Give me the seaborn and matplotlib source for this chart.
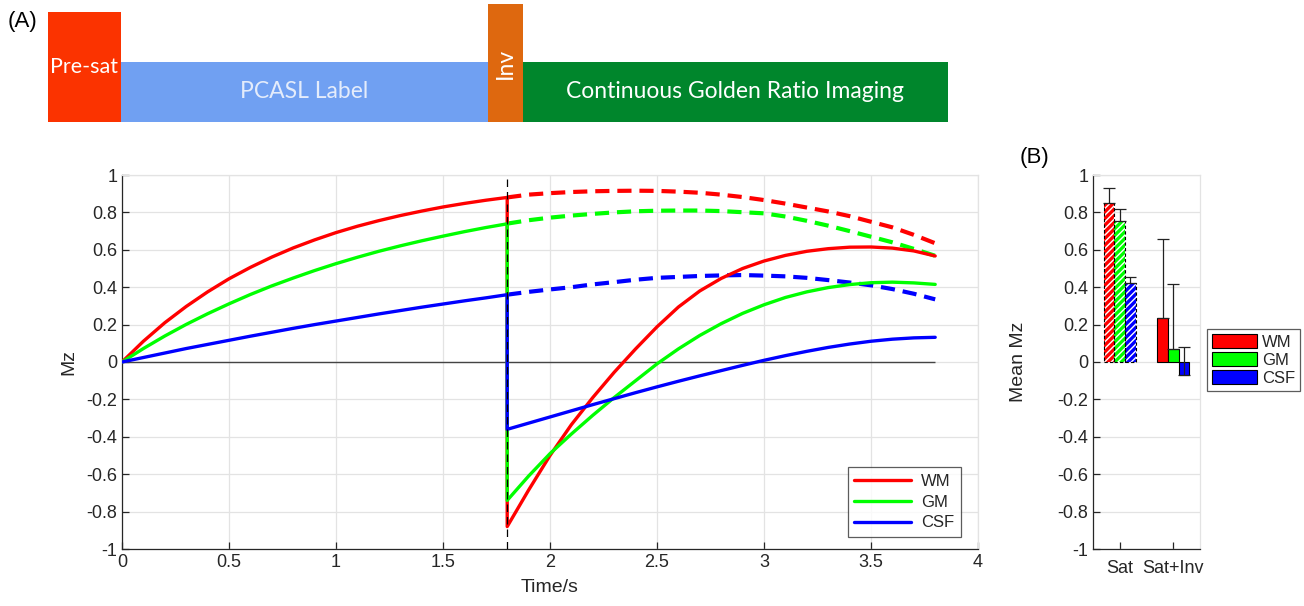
import numpy as np
import pandas as pd
import matplotlib
matplotlib.use('Agg')
import matplotlib.pyplot as plt
from matplotlib.lines import Line2D
from matplotlib.patches import Patch, Rectangle
import seaborn as sns

# --- curves ---
t_pre = [0.0, 0.1, 0.2, 0.3, 0.4, 0.5, 0.6, 0.7, 0.8, 0.9,
         1.0, 1.1, 1.2, 1.3, 1.4, 1.5, 1.6, 1.7, 1.8]
wm_pre = [0.0, 0.111, 0.21, 0.297, 0.375, 0.445, 0.506, 0.561, 0.61, 0.653,
          0.692, 0.726, 0.756, 0.783, 0.807, 0.829, 0.848, 0.865, 0.88]
gm_pre = [0.0, 0.072, 0.139, 0.201, 0.258, 0.311, 0.361, 0.407, 0.449, 0.489,
          0.526, 0.56, 0.592, 0.621, 0.648, 0.673, 0.697, 0.719, 0.739]
csf_pre = [0.0, 0.024, 0.048, 0.072, 0.094, 0.116, 0.138, 0.159, 0.18, 0.2,
           0.219, 0.238, 0.257, 0.275, 0.293, 0.31, 0.327, 0.343, 0.36]

t_post = [1.8, 1.9, 2.0, 2.1, 2.2, 2.3, 2.4, 2.5, 2.6, 2.7, 2.8,
          2.9, 3.0, 3.1, 3.2, 3.3, 3.4, 3.5, 3.6, 3.7, 3.8]
# with inversion (solid)
wm_inv = [-0.88, -0.685, -0.5, -0.335, -0.19, -0.055, 0.07, 0.188, 0.294, 0.38, 0.447,
          0.5, 0.54, 0.57, 0.592, 0.606, 0.614, 0.615, 0.609, 0.594, 0.567]
gm_inv = [-0.74, -0.61, -0.49, -0.385, -0.285, -0.19, -0.1, -0.01, 0.07, 0.142, 0.205,
          0.26, 0.306, 0.345, 0.375, 0.398, 0.414, 0.424, 0.427, 0.423, 0.415]
csf_inv = [-0.36, -0.327, -0.294, -0.261, -0.228, -0.196, -0.164, -0.133, -0.103, -0.074, -0.046,
           -0.018, 0.009, 0.034, 0.057, 0.078, 0.096, 0.111, 0.122, 0.129, 0.132]
# without inversion (dashed)
wm_sat = [0.88, 0.895, 0.903, 0.909, 0.913, 0.915, 0.916, 0.915, 0.911, 0.905, 0.895,
          0.882, 0.866, 0.847, 0.826, 0.805, 0.78, 0.75, 0.72, 0.68, 0.635]
gm_sat = [0.74, 0.758, 0.772, 0.783, 0.792, 0.8, 0.806, 0.809, 0.81, 0.81, 0.807,
          0.801, 0.795, 0.778, 0.755, 0.729, 0.7, 0.67, 0.64, 0.605, 0.568]
csf_sat = [0.36, 0.375, 0.388, 0.4, 0.415, 0.427, 0.44, 0.45, 0.455, 0.46, 0.463,
           0.465, 0.462, 0.458, 0.45, 0.438, 0.425, 0.41, 0.39, 0.365, 0.335]

t_inv = 1.8
tissues = ['WM', 'GM', 'CSF']
tissue_colors = ['#ff0000', '#00ff00', '#0000ff']

# --- bar panel ---
conditions = ['Sat', 'Sat+Inv']
bar_wm = [0.85, 0.235]
bar_gm = [0.754, 0.067]
bar_csf = [0.42, -0.07]
err_wm = [0.08, 0.425]
err_gm = [0.065, 0.35]
err_csf = [0.032, 0.15]

# --- timing diagram ---
block_labels = ['Pre-sat', 'PCASL Label', 'Inv', 'Continuous Golden Ratio Imaging']
block_starts = [0, 73, 440, 475]
block_widths = [73, 367, 35, 425]
block_heights = [110, 60, 118, 60]
block_colors = ['#fb3300', '#70a0f2', '#de680f', '#00862c']
block_text_colors = ['white', '#e4ecfb', 'white', 'white']
block_text_sizes = [15.5, 16.5, 16.5, 16.5]
block_rot = [0, 0, 90, 0]

yticks = [-1, -0.8, -0.6, -0.4, -0.2, 0, 0.2, 0.4, 0.6, 0.8, 1]
ytick_labels = ['-1', '-0.8', '-0.6', '-0.4', '-0.2', '0', '0.2', '0.4', '0.6', '0.8', '1']
xticks = [0, 0.5, 1, 1.5, 2, 2.5, 3, 3.5, 4]
xtick_labels = ['0', '0.5', '1', '1.5', '2', '2.5', '3', '3.5', '4']

sns.set_theme(style='white')
plt.rcParams['font.family'] = ['Liberation Sans', 'DejaVu Sans']
txt = '#262626'

fig = plt.figure(figsize=(13.04, 6.06), dpi=100)


def style_axes(ax):
    ax.grid(True, color='#e3e3e3', lw=0.9)
    ax.set_axisbelow(True)
    for s in ['left', 'bottom']:
        ax.spines[s].set_color('#262626')
        ax.spines[s].set_linewidth(0.9)
    for s in ['top', 'right']:
        ax.spines[s].set_color('#e3e3e3')
        ax.spines[s].set_linewidth(0.9)
    ax.tick_params(direction='in', length=5, width=0.9, color='#262626',
                   labelsize=13, labelcolor=txt, left=True, bottom=True)
    ax.set_ylim(-1, 1)
    ax.set_yticks(yticks)
    ax.set_yticklabels(ytick_labels)


# main plot
ax = fig.add_axes([122 / 1304, 1 - 549 / 606, 856 / 1304, 374 / 606])
style_axes(ax)
ax.hlines(0, 0, 3.8, color='#444444', lw=1.0, zorder=1)

pre = [wm_pre, gm_pre, csf_pre]
inv = [wm_inv, gm_inv, csf_inv]
sat = [wm_sat, gm_sat, csf_sat]
for name, col, p, i, s in zip(tissues, tissue_colors, pre, inv, sat):
    solid = pd.DataFrame({'t': t_pre + t_post, 'mz': p + i})
    sns.lineplot(data=solid, x='t', y='mz', sort=False, estimator=None,
                 color=col, lw=2.4, ax=ax, zorder=3)
    dashed = pd.DataFrame({'t': t_post, 'mz': s})
    sns.lineplot(data=dashed, x='t', y='mz', sort=False, estimator=None,
                 color=col, lw=3.0, ax=ax, zorder=2)
    ax.lines[-1].set_dashes((3.4, 1.9))

ax.axvline(t_inv, color='black', lw=0.9, dashes=(6, 4), zorder=4)
ax.set_xlim(0, 4)
ax.set_xticks(xticks)
ax.set_xticklabels(xtick_labels)
ax.set_xlabel('Time/s', fontsize=14, color=txt, labelpad=6)
ax.set_ylabel('Mz', fontsize=14, color=txt, labelpad=6)

handles = [Line2D([], [], color=c, lw=2.4) for c in tissue_colors]
leg = ax.legend(handles, tissues, loc='lower right', bbox_to_anchor=(0.980, 0.032),
                borderaxespad=0, fontsize=12, frameon=True, fancybox=False,
                handlelength=3.4, borderpad=0.4, labelspacing=0.35, handletextpad=0.6)
leg.get_frame().set_edgecolor('#333333')
leg.get_frame().set_linewidth(0.9)

# bar plot
axb = fig.add_axes([1093 / 1304, 1 - 549 / 606, 107 / 1304, 374 / 606])
style_axes(axb)
bar_df = pd.DataFrame({
    'cond': conditions * 3,
    'tissue': [t for t in tissues for _ in conditions],
    'mz': bar_wm + bar_gm + bar_csf,
})
sns.barplot(data=bar_df, x='cond', y='mz', hue='tissue', hue_order=tissues,
            palette=tissue_colors, width=0.6, errorbar=None, saturation=1,
            legend=False, ax=axb)
errs = [err_wm, err_gm, err_csf]
vals = [bar_wm, bar_gm, bar_csf]
for cont, e, v in zip(axb.containers, errs, vals):
    xs = []
    for j, bar in enumerate(cont):
        xs.append(bar.get_x() + bar.get_width() / 2)
        if j == 0:
            bar.set_hatch('/////')
            bar.set_edgecolor('white')
            bar.set_linewidth(0)
            axb.add_patch(Rectangle(bar.get_xy(), bar.get_width(), bar.get_height(),
                                    fill=False, ec='black', lw=0.8, ls=(0, (3, 2)), zorder=3))
        else:
            bar.set_edgecolor('black')
            bar.set_linewidth(0.8)
    axb.errorbar(xs, v, yerr=[np.zeros(len(v)), e], fmt='none', ecolor='#222222',
                 elinewidth=0.9, capsize=4, capthick=0.9, zorder=4)
axb.set_xlim(-0.5, 1.5)
axb.set_xlabel('')
axb.set_ylabel('Mean Mz', fontsize=14, color=txt, labelpad=22)
axb.tick_params(axis='x', labelsize=13, pad=8)

bhandles = [Patch(facecolor=c, edgecolor='black', lw=0.8) for c in tissue_colors]
bleg = fig.legend(bhandles, tissues, loc='upper left',
                  bbox_to_anchor=(1207 / 1304, 1 - 329 / 606), borderaxespad=0,
                  fontsize=12, frameon=True, fancybox=False, handlelength=2.7,
                  handleheight=0.9, borderpad=0.3, labelspacing=0.15, handletextpad=0.3)
bleg.get_frame().set_edgecolor('#333333')
bleg.get_frame().set_linewidth(0.9)

# timing diagram
axd = fig.add_axes([48 / 1304, 1 - 122 / 606, 900 / 1304, 118 / 606])
axd.bar(block_starts, block_heights, width=block_widths, align='edge',
        color=block_colors, lw=0)
for lab, x0, w, h, tc, fs, r in zip(block_labels, block_starts, block_widths,
                                    block_heights, block_text_colors,
                                    block_text_sizes, block_rot):
    axd.text(x0 + w / 2, h / 2, lab, ha='center', va='center', color=tc,
             fontsize=fs, rotation=r, family=['Lato', 'DejaVu Sans'])
axd.set_xlim(0, 900)
axd.set_ylim(0, 118)
axd.axis('off')

fig.text(8 / 1304, 1 - 22 / 606, '(A)', fontsize=16, color='black', va='center', ha='left')
fig.text(1020 / 1304, 1 - 157 / 606, '(B)', fontsize=16, color='black', va='center', ha='left')

fig.savefig('out.png', dpi=100)
